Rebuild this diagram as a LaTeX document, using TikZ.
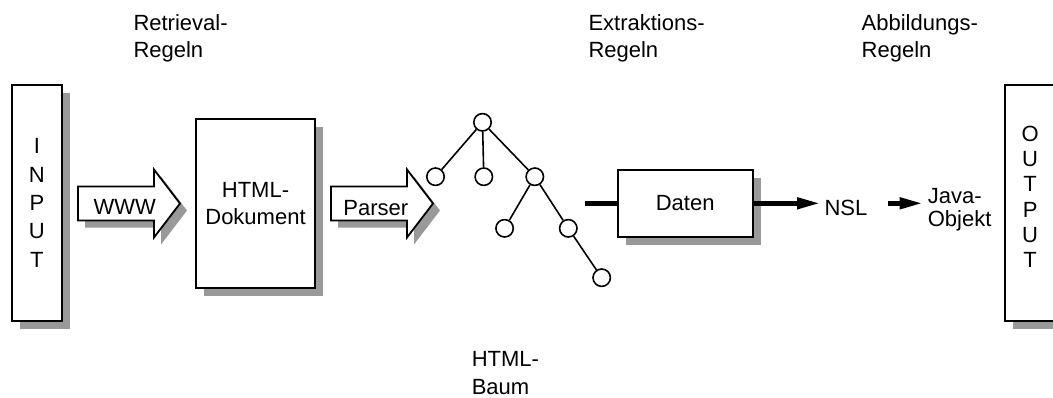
\documentclass[tikz,border=0pt]{standalone}
\usepackage{fontspec}
\setmainfont{Liberation Sans}
\usetikzlibrary{arrows.meta,shadows}
\definecolor{shadowgray}{RGB}{153,153,153}
\tikzset{
  every node/.style={font=\fontsize{22}{26.7}\selectfont, inner sep=0pt},
  box/.style={draw, line width=1.8pt, fill=white, align=center,
    drop shadow={shadow xshift=8pt, shadow yshift=-8pt, opacity=1, fill=shadowgray}},
  sidebox/.style={box, minimum width=50.3pt, minimum height=235.7pt},
  fatarrow/.style={draw, line width=1.8pt, fill=white, line join=miter},
  fatshadow/.style={fill=shadowgray, shift={(7,7)}},
  treenode/.style={circle, draw, line width=1.6pt, fill=white, minimum size=17.4pt},
  treeedge/.style={line width=1.6pt},
  conn/.style={line width=4.5pt},
  arr/.style={conn, -{Triangle[length=23pt,width=11pt]}},
  lbl/.style={anchor=base west},
}
\begin{document}
\begin{tikzpicture}[x=1pt,y=-1pt]
\useasboundingbox (0,0) rectangle (1053,397);
\clip (0,0) rectangle (1053,397);

% rule labels
\node[lbl] (retrA) at (133.3,30.7) {Retrieval-};
\node[lbl] (retrB) at (133.3,57.3) {Regeln};
\node[lbl] (extrA) at (588.3,30.7) {Extraktions-};
\node[lbl] (extrB) at (588.3,57.3) {Regeln};
\node[lbl] (abbA) at (861.5,30.0) {Abbildungs-};
\node[lbl] (abbB) at (861.5,57.0) {Regeln};

% input and output columns
\node[sidebox, font=\fontsize{22}{28.35}\selectfont] (input) at (36.85,202.85) {I\\N\\P\\U\\T};
\node[sidebox] (output) at (1030.15,202.85) {};
\node[align=center, font=\fontsize{22}{25.3}\selectfont] (outtext) at (1030.15,196.7) {O\\U\\T\\P\\U\\T};

% WWW block arrow
\path[fatshadow] (78,186.5) -- (154,186.5) -- (154,169.5) -- (180,203.5)
  -- (154,237.5) -- (154,220.5) -- (78,220.5) -- cycle;
\path[fatarrow] (78,186.5) -- (154,186.5) -- (154,169.5) -- (180,203.5)
  -- (154,237.5) -- (154,220.5) -- (78,220.5) -- cycle;
\node[anchor=base] (www) at (124.7,214) {WWW};

% HTML document
\node[box, minimum width=119pt, minimum height=168.7pt] (doc) at (255.5,203.7) {HTML-\\Dokument};

% Parser block arrow
\path[fatshadow] (331,186.5) -- (407,186.5) -- (407,169.5) -- (433,203.5)
  -- (407,237.5) -- (407,220.5) -- (331,220.5) -- cycle;
\path[fatarrow] (331,186.5) -- (407,186.5) -- (407,169.5) -- (433,203.5)
  -- (407,237.5) -- (407,220.5) -- (331,220.5) -- cycle;
\node[anchor=base] (parser) at (375.8,215) {Parser};

% HTML tree
\node[treenode] (root) at (482.5,122.3) {};
\node[treenode] (c1) at (435.5,176.7) {};
\node[treenode] (c2) at (483.8,176.7) {};
\node[treenode] (c3) at (534.8,176.7) {};
\node[treenode] (g1) at (504.6,228.3) {};
\node[treenode] (g2) at (568.3,228.3) {};
\node[treenode] (gg) at (601.7,277.7) {};
\draw[treeedge] (root) -- (c1);
\draw[treeedge] (root) -- (c2);
\draw[treeedge] (root) -- (c3);
\draw[treeedge] (c3) -- (g1);
\draw[treeedge] (c3) -- (g2);
\draw[treeedge] (g2) -- (gg);
\node[lbl] (baumA) at (471.6,366.7) {HTML-};
\node[lbl] (baumB) at (471.6,394.3) {Baum};

% extracted data
\node[box, minimum width=135pt, minimum height=66.7pt] (daten) at (685.2,203.3) {Daten};
\coordinate (treeout) at (585,203.3);
\draw[conn] (treeout) -- (daten.west);

% mapping chain
\node[lbl] (nsl) at (824.3,215) {NSL};
\node[anchor=west, align=left, font=\fontsize{22}{23.5}\selectfont] (java) at (927.6,209.5) {Java-\\Objekt};
\draw[arr, shorten >=4.3pt] (daten.east) -- (daten.east -| nsl.west);
\draw[arr, shorten <=20pt, shorten >=5pt] (nsl.east |- daten.east) -- (java.west |- daten.east);
\end{tikzpicture}
\end{document}
